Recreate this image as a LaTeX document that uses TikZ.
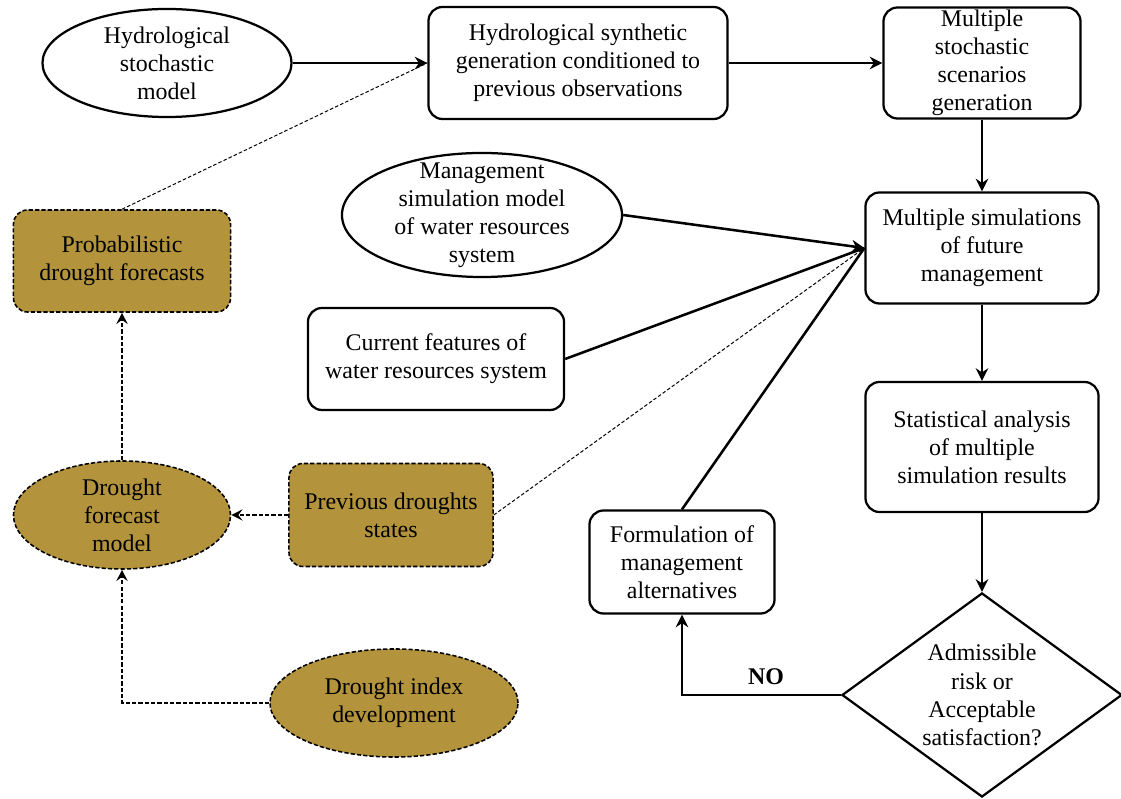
\documentclass[tikz,border=0pt]{standalone}
\usepackage{fontspec}
\setmainfont{Liberation Serif}
\usetikzlibrary{arrows.meta,shapes.geometric}
\definecolor{ocre}{RGB}{179,148,60}

\begin{document}
\begin{tikzpicture}[x=0.025cm,y=-0.025cm,
        every node/.style={font=\fontsize{17}{20}\selectfont, align=center, inner sep=0pt},
        caja/.style={draw, rounded corners=10pt, line width=1.6pt},
        elipse/.style={draw, ellipse, line width=1.6pt},
        sequia/.style={fill=ocre, line width=1.1pt, dash pattern=on 3pt off 1.5pt},
        flecha/.style={line width=1.8pt, -{Stealth[length=9pt,width=9pt,inset=3pt]}},
        linea/.style={line width=1.8pt},
        guion/.style={line width=1.1pt, dash pattern=on 3pt off 1.5pt, -{Stealth[length=8pt,width=8pt,inset=3pt]}},
        fino/.style={line width=0.7pt, dash pattern=on 2.5pt off 1.5pt}]
        \useasboundingbox (0,0) rectangle (1121,799);
        % Fila superior
        \node[elipse, minimum width=6.225cm, minimum height=2.7cm] (hsm) at (167,63) {Hydrological\\stochastic\\model};
        \node[caja, minimum width=7.475cm, minimum height=2.8cm] (hsg) at (578,63) {Hydrological synthetic\\generation conditioned to\\previous observations};
        \node[caja, minimum width=4.925cm, minimum height=2.775cm] (mss) at (982,63) {Multiple\\stochastic\\scenarios\\generation};
        % Bloque central
        \node[elipse, inner ysep=-12pt, minimum width=7cm, minimum height=3.1cm] (msm) at (482,215) {Management\\simulation model\\of water resources\\system};
        \node[caja, minimum width=6.4cm, minimum height=2.55cm] (cur) at (436,359) {Current features of\\water resources system};
        % Columna derecha
        \node[caja, minimum width=5.825cm, minimum height=2.775cm] (ms) at (982,248) {Multiple simulations\\of future\\management};
        \node[caja, minimum width=5.825cm, minimum height=3.25cm] (sa) at (982,447) {Statistical analysis\\of multiple\\simulation results};
        \node[draw, diamond, shape aspect=1.4, line width=1.6pt, minimum width=7cm, minimum height=5.1cm] (dec) at (982,695) {Admissible\\risk or\\Acceptable\\satisfaction?};
        \node[caja, minimum width=4.625cm, minimum height=2.575cm] (alt) at (682,562) {Formulation of\\management\\alternatives};
        \node (no) at (766,677) {\bfseries NO};
        % Sequias
        \node[caja, sequia, minimum width=5.425cm, minimum height=2.55cm] (prob) at (122,261) {Probabilistic\\drought forecasts};
        \node[elipse, sequia, minimum width=5.425cm, minimum height=2.7cm] (dfm) at (122,515) {Drought\\forecast\\model};
        \node[caja, sequia, minimum width=5.1cm, minimum height=2.575cm] (prev) at (391,515) {Previous droughts\\states};
        \node[elipse, sequia, minimum width=6.2cm, minimum height=2.7cm] (dix) at (394,703) {Drought index\\development};
        % Conexiones
        \draw[fino] (prob.north) -- (hsg.west);
        \draw[flecha] (hsm) -- (hsg);
        \draw[flecha] (hsg) -- (mss);
        \draw[flecha] (mss) -- (ms);
        \draw[flecha] (ms) -- (sa);
        \draw[flecha] (sa) -- (dec);
        \draw[flecha] (dec.west) -| (alt.south);
        \draw[linea] (cur.east) -- (ms.west);
        \draw[linea] (alt.north) -- (ms.west);
        \draw[fino] (prev.east) -- (ms.west);
        \draw[flecha] (msm.east) -- (ms.west);
        \draw[guion] (dfm) -- (prob);
        \draw[guion] (prev) -- (dfm);
        \draw[guion] (dix.west) -| (dfm.south);
\end{tikzpicture}
\end{document}
